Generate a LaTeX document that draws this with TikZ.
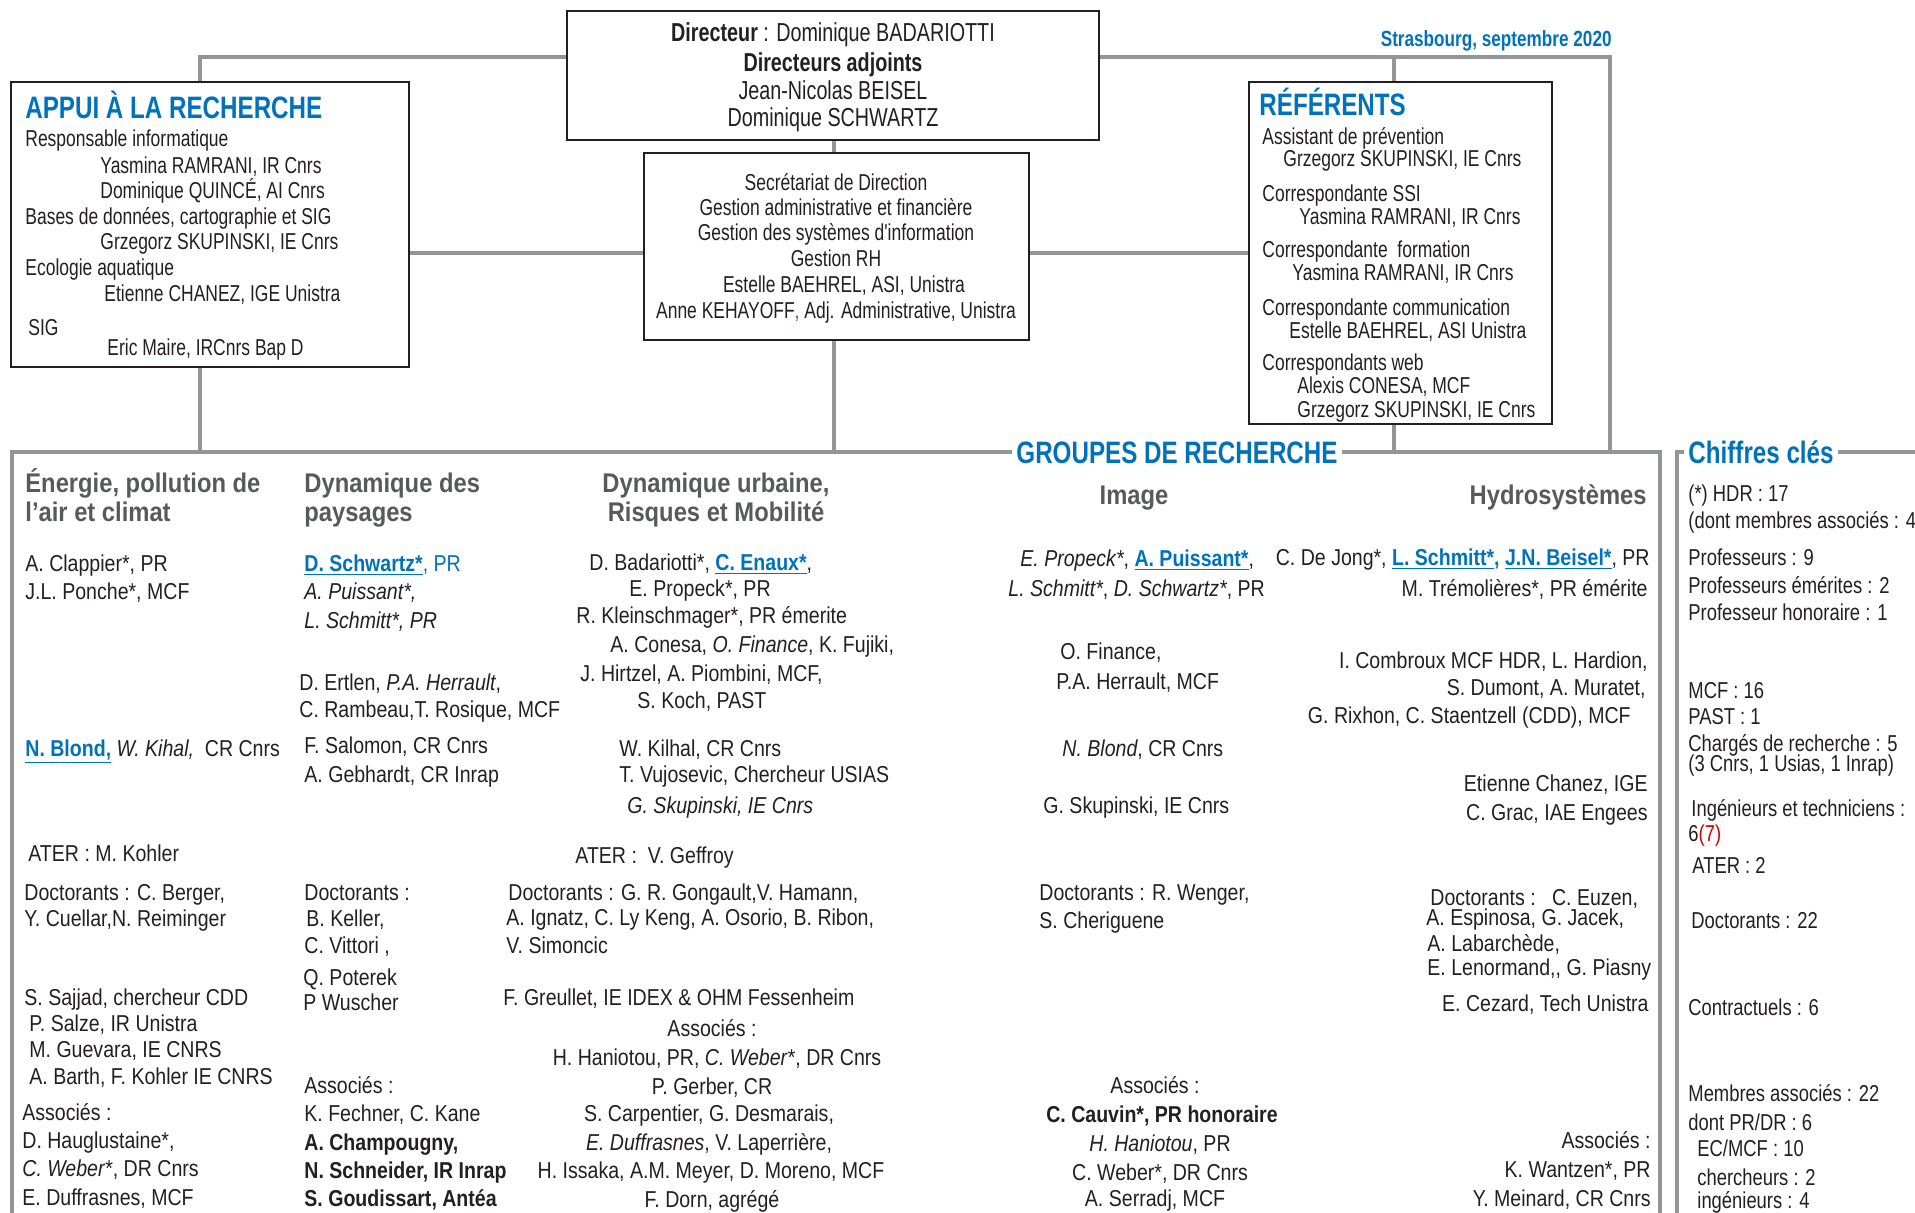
\documentclass[tikz,border=0pt]{standalone}
\usepackage{fontspec}
\setmainfont{Liberation Sans}
\newfontfamily\condfont{Liberation Sans}[FakeStretch=0.76]
\newfontfamily\grpfont{Liberation Sans}[FakeStretch=0.85]
\newfontfamily\numfont{Liberation Sans}[FakeStretch=0.8]
\newfontfamily\ttlfont{Liberation Sans}[FakeStretch=0.88]
\newfontfamily\hdfont{Liberation Sans}[FakeStretch=0.78]
\usetikzlibrary{positioning,fit}
\definecolor{uniblue}{HTML}{0072BC}
\definecolor{linegray}{HTML}{939598}
\definecolor{ttlgray}{HTML}{58595B}
\definecolor{inkblack}{HTML}{231F20}
\newcommand{\chef}[1]{\textcolor{uniblue}{\textbf{\underline{#1}}}}
\tikzset{
    orgchart/.style={x=0.5pt,y=-0.5pt,inner sep=0pt,text=inkblack},
    orgbox/.style={draw=inkblack,line width=1.4pt,inner sep=0pt},
    frame/.style={draw=linegray,line width=2.3pt,inner sep=0pt},
    link/.style={draw=linegray,line width=2.4pt},
    boxtxt/.style={anchor=west,text height=8.2pt,text depth=0pt,
                   font={\condfont\fontsize{11.5}{13}\selectfont}},
    boxctr/.style={boxtxt,anchor=center},
    dirtxt/.style={anchor=center,text height=9.3pt,text depth=0pt,
                   font={\condfont\fontsize{13}{15}\selectfont}},
    grptxt/.style={anchor=west,text height=8.2pt,text depth=0pt,
                   font={\grpfont\fontsize{11.5}{13}\selectfont}},
    grpctr/.style={grptxt,anchor=center},
    grpright/.style={grptxt,anchor=east},
    numtxt/.style={grptxt,font={\numfont\fontsize{11.5}{13}\selectfont}},
    grptitle/.style={anchor=west,text height=9.7pt,text depth=0pt,text=ttlgray,
                   font={\ttlfont\bfseries\fontsize{13.5}{15}\selectfont}},
    bluehead/.style={anchor=west,text height=11.1pt,text depth=0pt,text=uniblue,
                   font={\hdfont\bfseries\fontsize{15.5}{17}\selectfont}},
    framelabel/.style={bluehead,anchor=center,fill=white,inner xsep=2pt},
    }
\begin{document}
\begin{tikzpicture}[orgchart]
    \useasboundingbox (0,0) rectangle (1915,1213);
    \clip (0,0) rectangle (1915,1213);

    % boxes
    \node[orgbox,fit={(567,11) (1099,140)}] (dir) {};
    \node[orgbox,fit={(11,82) (409,367)}] (appui) {};
    \node[orgbox,fit={(644,153) (1029,340)}] (sec) {};
    \node[orgbox,fit={(1249,82) (1552,424)}] (ref) {};
    \node[frame,fit={(12,452) (1660,1240)}] (grp) {};
    \node[frame,fit={(1677,452) (1960,1240)}] (cles) {};

    % connectors
    \coordinate (tl) at (200,57);
    \coordinate (tr) at (1610,57);
    \coordinate (tm) at (1394,57);
    \coordinate (cm) at (834,0);
    \draw[link] (appui.north -| tl) -- (tl) -- (dir.west |- tl);
    \draw[link] (dir.east |- tr) -- (tr) -- (tr |- grp.north);
    \draw[link] (tm) -- (ref.north -| tm);
    \draw[link] (appui.south -| tl) -- (tl |- grp.north);
    \draw[link] (dir.south -| cm) -- (sec.north -| cm);
    \draw[link] (sec.south -| cm) -- (cm |- grp.north);
    \draw[link] (ref.south -| tm) -- (tm |- grp.north);
    \draw[link] (appui.east |- ref.west) -- (sec.west |- ref.west);
    \draw[link] (sec.east |- ref.west) -- (ref.west);

    \node[framelabel] (grplbl) at (1177,452) {GROUPES DE RECHERCHE};
    \node[framelabel] (cleslbl) at (1761,452) {Chiffres clés};
    \node[anchor=east,text height=7.9pt,text depth=0pt,text=uniblue,
          font={\hdfont\bfseries\fontsize{11}{13}\selectfont}] (date) at (1612,39) {Strasbourg, septembre 2020};

    % direction
    \node[dirtxt] (dr1) at (833,32) {\textbf{Directeur} : Dominique BADARIOTTI};
    \node[dirtxt] (dr2) at (833,62) {\textbf{Directeurs adjoints}};
    \node[dirtxt] (dr3) at (833,90) {Jean-Nicolas BEISEL};
    \node[dirtxt] (dr4) at (833,117) {Dominique SCHWARTZ};

    \node[boxctr] (sc1) at (836,182) {Secrétariat de Direction};
    \node[boxctr] (sc2) at (836,207) {Gestion administrative et financière};
    \node[boxctr] (sc3) at (836,232) {Gestion des systèmes d'information};
    \node[boxctr] (sc4) at (836,258) {Gestion RH};
    \node[boxctr] (sc5) at (844,284) {Estelle BAEHREL, ASI, Unistra};
    \node[boxctr] (sc6) at (836,310) {Anne KEHAYOFF{\color{green!60!black},} Adj. Administrative, Unistra};

    % appui
    \node[bluehead] (ap0) at (25,107) {APPUI À LA RECHERCHE};
    \node[boxtxt] (ap1) at (25,138) {Responsable informatique};
    \node[boxtxt] (ap2) at (100,165) {Yasmina RAMRANI, IR Cnrs};
    \node[boxtxt] (ap3) at (100,190) {Dominique QUINCÉ, AI Cnrs};
    \node[boxtxt] (ap4) at (25,216) {Bases de données, cartographie et SIG};
    \node[boxtxt] (ap5) at (100,241) {Grzegorz SKUPINSKI, IE Cnrs};
    \node[boxtxt] (ap6) at (25,267) {Ecologie aquatique};
    \node[boxtxt] (ap7) at (104,293) {Etienne CHANEZ, IGE Unistra};
    \node[boxtxt] (ap8) at (28,327) {SIG};
    \node[boxtxt] (ap9) at (107,347) {Eric Maire, IRCnrs Bap D};

    % referents
    \node[bluehead] (rf0) at (1259,104) {RÉFÉRENTS};
    \node[boxtxt] (rf1) at (1262,136) {Assistant de prévention};
    \node[boxtxt] (rf2) at (1283,158) {Grzegorz SKUPINSKI, IE Cnrs};
    \node[boxtxt] (rf3) at (1262,193) {Correspondante SSI};
    \node[boxtxt] (rf4) at (1299,216) {Yasmina RAMRANI, IR Cnrs};
    \node[boxtxt] (rf5) at (1262,249) {Correspondante\ \ formation};
    \node[boxtxt] (rf6) at (1292,272) {Yasmina RAMRANI, IR Cnrs};
    \node[boxtxt] (rf7) at (1262,307) {Correspondante communication};
    \node[boxtxt] (rf8) at (1289,330) {Estelle BAEHREL, ASI Unistra};
    \node[boxtxt] (rf9) at (1262,362) {Correspondants web};
    \node[boxtxt] (rf10) at (1297,385) {Alexis CONESA, MCF};
    \node[boxtxt] (rf11) at (1297,409) {Grzegorz SKUPINSKI, IE Cnrs};

    % groupes: titles
    \node[grptitle] (e0a) at (25,483) {Énergie, pollution de};
    \node[grptitle] (e0b) at (25,512) {l’air et climat};
    \node[grptitle] (p0a) at (304,483) {Dynamique des};
    \node[grptitle] (p0b) at (304,512) {paysages};
    \node[grptitle,anchor=center] (u0a) at (716,483) {Dynamique urbaine,};
    \node[grptitle,anchor=center] (u0b) at (716,512) {Risques et Mobilité};
    \node[grptitle,anchor=center] (i0) at (1134,495) {Image};
    \node[grptitle,anchor=east] (h0) at (1647,495) {Hydrosystèmes};

    % energie
    \node[grptxt] (e1) at (25,563) {A. Clappier*, PR};
    \node[grptxt] (e2) at (25,591) {J.L. Ponche*, MCF};
    \node[grptxt] (e3) at (25,748) {\chef{N. Blond,} \textit{W. Kihal,}\ \ CR Cnrs};
    \node[grptxt] (e4) at (28,853) {ATER : M. Kohler};
    \node[grptxt] (e5) at (24,892) {Doctorants : C. Berger,};
    \node[grptxt] (e6) at (24,918) {Y. Cuellar,N. Reiminger};
    \node[grptxt] (e7) at (24,997) {S. Sajjad, chercheur CDD};
    \node[grptxt] (e8) at (29,1023) {P. Salze, IR Unistra};
    \node[grptxt] (e9) at (29,1049) {M. Guevara, IE CNRS};
    \node[grptxt] (e10) at (29,1076) {A. Barth, F. Kohler IE CNRS};
    \node[grptxt] (e11) at (22,1112) {Associés :};
    \node[grptxt] (e12) at (22,1140) {D. Hauglustaine*,};
    \node[grptxt] (e13) at (22,1168) {\textit{C. Weber}*, DR Cnrs};
    \node[grptxt] (e14) at (22,1197) {E. Duffrasnes, MCF};

    % paysages
    \node[grptxt] (p1) at (304,563) {\chef{D. Schwartz*}\textcolor{uniblue}{, PR}};
    \node[grptxt] (p2) at (304,591) {\textit{A. Puissant*,}};
    \node[grptxt] (p3) at (304,620) {\textit{L. Schmitt*, PR}};
    \node[grptxt] (p4) at (299,682) {D. Ertlen, \textit{P.A. Herrault},};
    \node[grptxt] (p5) at (299,709) {C. Rambeau,T. Rosique, MCF};
    \node[grptxt] (p6) at (304,745) {F. Salomon, CR Cnrs};
    \node[grptxt] (p7) at (304,774) {A. Gebhardt, CR Inrap};
    \node[grptxt] (p8) at (304,892) {Doctorants :};
    \node[grptxt] (p9) at (306,918) {B. Keller,};
    \node[grptxt] (p10) at (304,945) {C. Vittori ,};
    \node[grptxt] (p11) at (303,977) {Q. Poterek};
    \node[grptxt] (p12) at (303,1002) {P Wuscher};
    \node[grptxt] (p13) at (304,1085) {Associés :};
    \node[grptxt] (p14) at (304,1113) {K. Fechner, C. Kane};
    \node[grptxt] (p15) at (304,1142) {\textbf{A. Champougny,}};
    \node[grptxt] (p16) at (304,1170) {\textbf{N. Schneider, IR Inrap}};
    \node[grptxt] (p17) at (304,1198) {\textbf{S. Goudissart, Antéa}};

    % urbaine
    \node[grptxt] (u1) at (589,562) {D. Badariotti*, \chef{C. Enaux*},};
    \node[grptxt] (u2) at (629,588) {E. Propeck*, PR};
    \node[grptxt] (u3) at (576,615) {R. Kleinschmager*, PR émerite};
    \node[grptxt] (u4) at (610,644) {A. Conesa, \textit{O. Finance}, K. Fujiki,};
    \node[grptxt] (u5) at (580,673) {J. Hirtzel, A. Piombini, MCF,};
    \node[grptxt] (u6) at (637,700) {S. Koch, PAST};
    \node[grptxt] (u7) at (619,748) {W. Kilhal, CR Cnrs};
    \node[grptxt] (u8) at (619,774) {T. Vujosevic, Chercheur USIAS};
    \node[grptxt] (u9) at (627,805) {\textit{G. Skupinski, IE Cnrs}};
    \node[grptxt] (u10) at (575,855) {ATER :\ \ V. Geffroy};
    \node[grptxt] (u11) at (508,892) {Doctorants : G. R. Gongault,V. Hamann,};
    \node[grptxt] (u12) at (506,917) {A. Ignatz, C. Ly Keng, A. Osorio, B. Ribon,};
    \node[grptxt] (u13) at (506,945) {V. Simoncic};
    \node[grptxt] (u14) at (503,997) {F. Greullet, IE IDEX \& OHM Fessenheim};
    \node[grpctr] (u15) at (712,1028) {Associés :};
    \node[grpctr] (u16) at (717,1057) {H. Haniotou, PR, \textit{C. Weber}*, DR Cnrs};
    \node[grpctr] (u17) at (712,1086) {P. Gerber, CR};
    \node[grpctr] (u18) at (709,1113) {S. Carpentier, G. Desmarais,};
    \node[grpctr] (u19) at (709,1142) {\textit{E. Duffrasnes}, V. Laperrière,};
    \node[grpctr] (u20) at (711,1170) {H. Issaka, A.M. Meyer, D. Moreno, MCF};
    \node[grpctr] (u21) at (712,1199) {F. Dorn, agrégé};

    % image
    \node[grptxt] (i1) at (1020,558) {\textit{E. Propeck*}, \chef{A. Puissant*},};
    \node[grptxt] (i2) at (1008,588) {\textit{L. Schmitt*}, \textit{D. Schwartz*}, PR};
    \node[grptxt] (i3) at (1060,651) {O. Finance,};
    \node[grptxt] (i4) at (1056,681) {P.A. Herrault, MCF};
    \node[grptxt] (i5) at (1062,748) {\textit{N. Blond}, CR Cnrs};
    \node[grptxt] (i6) at (1043,805) {G. Skupinski, IE Cnrs};
    \node[grptxt] (i7) at (1039,892) {Doctorants : R. Wenger,};
    \node[grptxt] (i8) at (1039,920) {S. Cheriguene};
    \node[grpctr] (i9) at (1155,1085) {Associés :};
    \node[grpctr] (i10) at (1162,1114) {\textbf{C. Cauvin*, PR honoraire}};
    \node[grpctr] (i11) at (1160,1143) {\textit{H. Haniotou}, PR};
    \node[grpctr] (i12) at (1160,1172) {C. Weber*, DR Cnrs};
    \node[grpctr] (i13) at (1155,1198) {A. Serradj, MCF};

    % hydrosystemes
    \node[grpright] (h1) at (1650,557) {C. De Jong*, \chef{L. Schmitt*}\textcolor{uniblue}{\textbf{,}} \chef{J.N. Beisel*}, PR};
    \node[grpright] (h2) at (1648,588) {M. Trémolières*, PR émérite};
    \node[grpright] (h3) at (1648,660) {I. Combroux MCF HDR, L. Hardion,};
    \node[grpright] (h4) at (1646,687) {S. Dumont, A. Muratet,};
    \node[grpright] (h5) at (1631,715) {G. Rixhon, C. Staentzell (CDD), MCF};
    \node[grpright] (h6) at (1648,783) {Etienne Chanez, IGE};
    \node[grpright] (h7) at (1648,812) {C. Grac, IAE Engees};
    \node[grptxt] (h8) at (1430,897) {Doctorants :\ \ \ C. Euzen,};
    \node[grptxt] (h9) at (1426,917) {A. Espinosa, G. Jacek,};
    \node[grptxt] (h10) at (1427,943) {A. Labarchède,};
    \node[grptxt] (h11) at (1427,967) {E. Lenormand,, G. Piasny};
    \node[grpright] (h12) at (1649,1003) {E. Cezard, Tech Unistra};
    \node[grpright] (h13) at (1651,1140) {Associés :};
    \node[grpright] (h14) at (1651,1169) {K. Wantzen*, PR};
    \node[grpright] (h15) at (1651,1198) {Y. Meinard, CR Cnrs};

    % chiffres cles
    \node[numtxt] (c1) at (1688,493) {(*) HDR : 17};
    \node[numtxt] (c2) at (1688,520) {(dont membres associés : 4};
    \node[numtxt] (c3) at (1688,557) {Professeurs : 9};
    \node[numtxt] (c4) at (1688,585) {Professeurs émérites : 2};
    \node[numtxt] (c5) at (1688,612) {Professeur honoraire : 1};
    \node[numtxt] (c6) at (1688,690) {MCF : 16};
    \node[numtxt] (c7) at (1688,716) {PAST : 1};
    \node[numtxt] (c8) at (1688,743) {Chargés de recherche : 5};
    \node[numtxt] (c9) at (1688,763) {(3 Cnrs, 1 Usias, 1 Inrap)};
    \node[numtxt] (c10) at (1691,808) {Ingénieurs et techniciens :};
    \node[numtxt] (c11) at (1688,833) {6\textcolor{red!80!black}{(7)}};
    \node[numtxt] (c12) at (1692,865) {ATER : 2};
    \node[numtxt] (c13) at (1691,920) {Doctorants : 22};
    \node[numtxt] (c14) at (1688,1007) {Contractuels : 6};
    \node[numtxt] (c15) at (1688,1093) {Membres associés : 22};
    \node[numtxt] (c16) at (1688,1122) {dont PR/DR : 6};
    \node[numtxt] (c17) at (1697,1148) {EC/MCF : 10};
    \node[numtxt] (c18) at (1697,1177) {chercheurs : 2};
    \node[numtxt] (c19) at (1697,1200) {ingénieurs : 4};
\end{tikzpicture}
\end{document}
